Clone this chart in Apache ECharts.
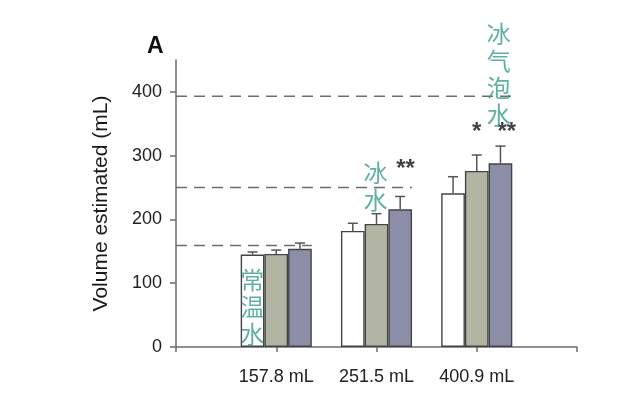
<!DOCTYPE html>
<html>
<head>
<meta charset="utf-8">
<script src="https://cdn.jsdelivr.net/npm/echarts@6/dist/echarts.min.js"></script>
<style>
  html, body { margin: 0; padding: 0; background: #fff; }
  #chart { width: 641px; height: 399px; }
</style>
</head>
<body>
<div id="chart"></div>
<script>
// volumes poured (categories) and estimated means per condition
var categories = ['157.8 mL', '251.5 mL', '400.9 mL'];
var roomTemp = [145, 182, 241];
var iceWater = [146, 193, 276];
var sparkling = [154, 216, 288];
var roomErr = [4, 12, 26];
var iceErr = [6, 16, 25];
var sparkErr = [9, 20, 27];
var yTicks = [0, 100, 200, 300, 400];
// dashed reference levels (true volume), one per category
var refLevels = [159, 250, 393];
// significance marks: [x position, y value, text]
var stars = [[2.29, 278, '**'], [3.0, 337, '*'], [3.30, 337, '**']];
// chinese notes: [x position, y value, text]
var notes = [[0.76, 63, '常温水'], [1.99, 252, '冰水'], [3.22, 427, '冰气泡水']];

var barW = 23.7;
var font = '"Liberation Sans", Arial, sans-serif';

var myChart = echarts.init(document.getElementById('chart'));

function barSeries(name, data, color) {
  return {
    name: name,
    type: 'bar',
    barWidth: barW,
    barGap: '0%',
    data: data.map(function (v, i) { return [i + 1, v]; }),
    itemStyle: { color: color, borderColor: '#444', borderWidth: 1.4 },
    z: 3
  };
}

// upper error bar with a cap, drawn next to each bar
function errSeries(means, errs, slot) {
  return {
    type: 'custom',
    data: means.map(function (v, i) { return [i + 1, v, v + errs[i]]; }),
    renderItem: function (params, api) {
      var lo = api.coord([api.value(0), api.value(1)]);
      var hi = api.coord([api.value(0), api.value(2)]);
      var x = lo[0] + (slot - 1) * barW;
      var style = { stroke: '#555', lineWidth: 1.5 };
      return {
        type: 'group',
        children: [
          { type: 'line', shape: { x1: x, y1: lo[1], x2: x, y2: hi[1] }, style: style },
          { type: 'line', shape: { x1: x - 5, y1: hi[1], x2: x + 5, y2: hi[1] }, style: style }
        ]
      };
    },
    z: 2
  };
}

var series = [
  barSeries('room', roomTemp, '#ffffff'),
  barSeries('ice', iceWater, '#b3b5a4'),
  barSeries('sparkling', sparkling, '#8c8ea8'),
  errSeries(roomTemp, roomErr, 0),
  errSeries(iceWater, iceErr, 1),
  errSeries(sparkling, sparkErr, 2)
];

refLevels.forEach(function (lvl, i) {
  series.push({
    type: 'line',
    data: [[0, lvl], [i + 1 + 1.5 * barW / 100.25, lvl]],
    symbol: 'none',
    silent: true,
    lineStyle: { color: '#6e6e6e', width: 1.5, type: [11, 7] },
    z: 1
  });
});

series.push({
  type: 'scatter',
  symbolSize: 0,
  silent: true,
  data: stars,
  label: {
    show: true, position: 'inside', formatter: function (p) { return p.data[2]; },
    color: '#111', fontSize: 24, fontWeight: 'bold', fontFamily: font
  },
  z: 5
});

series.push({
  type: 'scatter',
  symbolSize: 0,
  silent: true,
  data: notes,
  label: {
    show: true, position: 'inside',
    formatter: function (p) { return p.data[2].split('').join('\n'); },
    color: '#3a9e8a', fontSize: 24, lineHeight: 27, fontFamily: '"Noto Sans CJK SC", sans-serif'
  },
  z: 6
});

myChart.setOption({
  animation: false,
  backgroundColor: '#ffffff',
  grid: { left: 176, top: 60, right: 64, bottom: 52 },
  graphic: [{
    type: 'text', left: 147, top: 35,
    style: { text: 'A', fontSize: 23, fontWeight: 'bold', fontFamily: font, fill: '#111' }
  }],
  xAxis: {
    type: 'value', min: 0, max: 4, interval: 1,
    splitLine: { show: false },
    axisLine: { lineStyle: { color: '#6e6e6e', width: 1.5 } },
    axisTick: { show: true, length: 5, lineStyle: { color: '#6e6e6e', width: 1.5 } },
    axisLabel: {
      margin: 21, color: '#222', fontSize: 18, fontFamily: font,
      formatter: function (v) { return categories[v - 1] || ''; }
    }
  },
  yAxis: {
    type: 'value', min: 0, max: 450, interval: 50,
    name: 'Volume estimated (mL)', nameLocation: 'middle', nameGap: 64,
    nameTextStyle: { color: '#1a1a1a', fontSize: 21, fontFamily: font },
    splitLine: { show: false },
    axisLine: { show: true, lineStyle: { color: '#6e6e6e', width: 1.5 } },
    axisTick: { show: true, length: 6, customValues: yTicks, lineStyle: { color: '#6e6e6e', width: 1.5 } },
    axisLabel: { customValues: yTicks, margin: 14, color: '#222', fontSize: 18, fontFamily: font }
  },
  series: series
});
</script>
</body>
</html>
